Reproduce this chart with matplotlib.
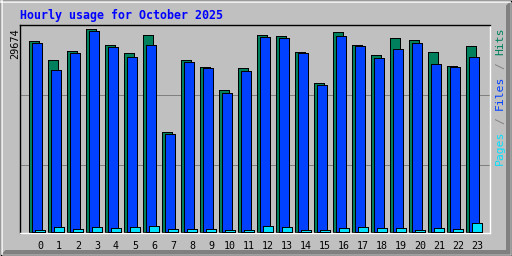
import numpy as np
import matplotlib
matplotlib.use("Agg")
import matplotlib.pyplot as plt
from matplotlib.patches import Polygon, Rectangle

# Hourly usage, October 2025
hours = list(range(24))
hour_labels = [str(h) for h in hours]
hits = [27920, 25143, 26459, 29674, 27336, 26166, 28797, 14618, 25143, 24120, 20757, 23973,
        28797, 28651, 26312, 21781, 29236, 27336, 25874, 28359, 28066, 26312, 24266, 27189]
files = [27628, 23681, 26166, 29382, 27043, 25582, 27336, 14326, 24851, 23973, 20319, 23535,
         28505, 28359, 26166, 21488, 28651, 27189, 25435, 26751, 27628, 24558, 24120, 25582]
pages = [292, 731, 439, 731, 585, 731, 877, 439, 439, 439, 292, 292,
         877, 731, 292, 292, 585, 731, 585, 585, 292, 585, 439, 1316]

title = "Hourly usage for October 2025"
grey, dkgrey = "#C0C0C0", "#808080"
hit_color, file_color, page_color = "#00805C", "#0040FF", "#00E0FF"
PX = 0.72  # one pixel in points

W, H = 512, 256
fig = plt.figure(figsize=(W / 100, H / 100), dpi=100, facecolor=grey)

# background / 3D frame, in pixel coords
bg = fig.add_axes([0, 0, 1, 1])
bg.set_xlim(0, W)
bg.set_ylim(H, 0)
bg.axis("off")
bg.add_patch(Polygon([(1, 254.5), (510.5, 254.5), (510.5, 1), (506, 5.5), (506, 250), (5.5, 250)],
                     closed=True, facecolor=dkgrey, edgecolor="none"))
bg.plot([1, 510], [1.5, 1.5], color="white", lw=1.2)
bg.plot([1.5, 1.5], [1, 254], color="white", lw=1.2)
bg.add_patch(Rectangle((0.5, 0.5), 511, 255, fill=False, edgecolor="black", lw=1))

# plot area: x 20..490, y 25..233 px
ax = fig.add_axes([20 / W, (H - 233) / H, 470 / W, 208 / H])
ax.set_facecolor(grey)
ymax = max(hits)
ax.set_ylim(-ymax / 203, ymax * 207 / 203)
ax.set_xlim((20 - 29) / 19, (490 - 29) / 19)

for frac in (67 / 203, 137 / 203):
    ax.axhline(ymax * frac, color=dkgrey, lw=PX, zorder=0.5, antialiased=False)

x = np.array(hours, dtype=float)
bw = 10 / 19
for off, vals, col, z in [(0, hits, hit_color, 2), (3, files, file_color, 3), (6, pages, page_color, 4)]:
    ax.bar(x + off / 19, vals, width=bw, align="edge", color=col, edgecolor="black",
           lw=PX, zorder=z, antialiased=False)

ax.set_xticks(x + 11 / 19)
ax.set_xticklabels(hour_labels, family="DejaVu Sans Mono", fontsize=7.2)
ax.tick_params(axis="x", length=0, pad=6)
ax.set_yticks([])
for s in ("top", "left"):
    ax.spines[s].set_color("black")
for s in ("bottom", "right"):
    ax.spines[s].set_color("white")
for s in ax.spines.values():
    s.set_linewidth(1)

# texts
bg.text(20, 19, title, color="#0000FF", family="DejaVu Sans Mono", fontweight="bold",
        fontsize=8.4, va="baseline", ha="left")
bg.text(15, 28, str(ymax), rotation=90, family="DejaVu Sans Mono", fontsize=7.4,
        ha="center", va="top", color="black")

cw = 6.85
y0 = 165
for txt, idx, col in [("Pages", 0, page_color), ("/", 6, dkgrey), ("Files", 8, file_color),
                      ("/", 14, dkgrey), ("Hits", 16, hit_color)]:
    bg.text(500, y0 - idx * cw, txt, rotation=90, family="DejaVu Sans Mono", fontsize=8.2,
            ha="center", va="bottom", color=col)

fig.savefig("out.png", dpi=100, facecolor=grey)
